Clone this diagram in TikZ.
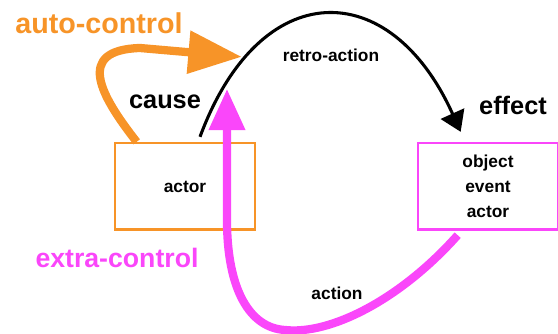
\documentclass[tikz,border=0pt]{standalone}
\usepackage{fontspec}
\setmainfont{Liberation Sans}
\usepackage{tikz}
\usetikzlibrary{calc}
\usetikzlibrary{arrows.meta}
\usepackage{xcolor}
\definecolor{ctlorange}{RGB}{247,148,40}
\definecolor{ctlmagenta}{RGB}{250,70,250}

\begin{document}
\begin{tikzpicture}[x=0.75pt,y=-0.75pt]

\def\lwbox{2pt}
\def\lwblk{2.3pt}
\def\lwctl{6.2pt}

\tikzset{
box/.style = {draw=#1, line width=\lwbox, minimum width=105pt, minimum height=65pt, inner sep=0pt, align=center, text=black, font=\bfseries\fontsize{13}{18.75}\selectfont},
small/.style = {font=\bfseries\fontsize{13}{15}\selectfont},
big/.style = {font=\bfseries\fontsize{19}{22}\selectfont}
}

\useasboundingbox (0,0) rectangle (558,334);

\node[box=ctlorange] (a) at (185,186.5) {actor};
\node[box=ctlmagenta] (e) at (488,186.5) {object\\event\\actor};

\node[color=ctlorange,font=\bfseries\fontsize{21.5}{25}\selectfont] (auto) at (99,23) {auto-control};
\node[color=ctlmagenta,font=\bfseries\fontsize{20}{24}\selectfont] (extra) at (117,258) {extra-control};
\node[big] (cause) at (165,102) {cause};
\node[big] (effect) at (513,105) {effect};
\node[small] (retro) at (331,55) {retro-action};
\node[small] (act) at (337,293) {action};

\coordinate (autotip) at ($(a.north west)+(128,-85)$);
\coordinate (retrotip) at ($(e.north west)+(44,-10)$);
\coordinate (extratip) at ($(a.north)+(42,-53)$);

%\draw [help lines] grid (558,334);

\draw[color=ctlorange,line width=\lwctl,-{Triangle[length=40pt,width=31pt]}] ($(a.north west)+(23,0)$) .. controls (100,95) and (75,50) .. (140,48) -- (autotip);

\draw[color=ctlmagenta,line width=\lwctl,-{Triangle[length=31pt,width=26pt]}] ($(e.south west)+(41,4)$) .. controls (400,300) and (330,335) .. (285,330) .. controls (250,328) and (227,290) .. (227,220) -- (extratip);

\draw[color=black,line width=\lwblk,-{Triangle[length=15pt,width=19pt]}] ($(a.north)+(15,-5)$) .. controls (260,-25) and (390,-25) .. (retrotip);

\end{tikzpicture}
\end{document}
